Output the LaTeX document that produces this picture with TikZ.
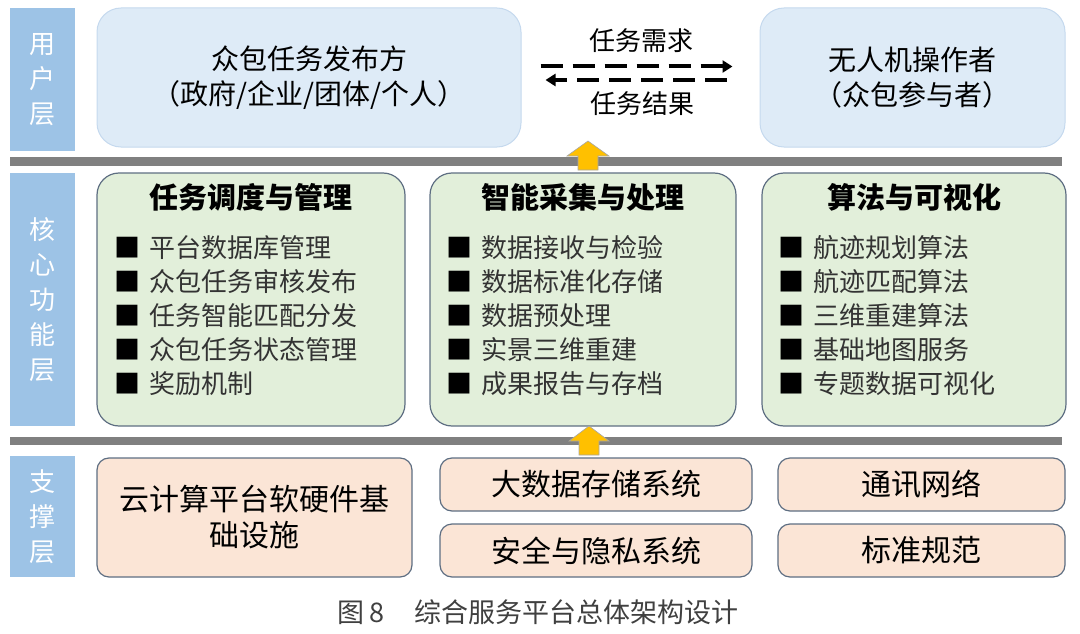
\documentclass[tikz,border=0pt]{standalone}
\usepackage{fontspec}
\setmainfont{Noto Sans CJK SC}
\usetikzlibrary{positioning, arrows.meta}
\definecolor{barblue}{HTML}{9DC3E6}
\definecolor{userfill}{HTML}{DEEBF7}
\definecolor{userline}{HTML}{C5D9EE}
\definecolor{corefill}{HTML}{E2EFDA}
\definecolor{boxline}{HTML}{5E6E82}
\definecolor{basefill}{HTML}{FBE5D6}
\definecolor{upyellow}{HTML}{FFC000}
\newcommand{\sq}{{\color{black}■}\hspace{9pt}}
\tikzstyle{layer} = [fill=barblue, text=white, minimum width=65pt, inner sep=0pt, align=center, font=\fontsize{26}{35}\selectfont]
\tikzstyle{userbox} = [rounded corners=24pt, draw=userline, fill=userfill, line width=1pt, minimum height=139pt, align=center, font=\fontsize{28}{35}\selectfont]
\tikzstyle{corebox} = [rounded corners=22pt, draw=boxline, fill=corefill, line width=1.2pt, minimum height=253pt]
\tikzstyle{basebox} = [rounded corners=12pt, draw=boxline, fill=basefill, line width=1.2pt, align=center, font=\fontsize{30}{36}\selectfont]
\tikzstyle{title} = [inner sep=0pt, font=\bfseries\fontsize{29}{34}\selectfont]
\tikzstyle{itemlist} = [inner sep=0pt, align=left, text=black!80, font=\fontsize{26}{34}\selectfont]
\tikzstyle{dasharrow} = [line width=4pt, dash pattern=on 22pt off 10pt, -{Triangle[length=10pt,width=12pt]}]
\tikzstyle{upblock} = [fill=upyellow, draw=gray!70, line width=0.6pt]

\begin{document}
\begin{tikzpicture}[x=1pt, y=-1pt]
        \useasboundingbox (0,0) rectangle (1080,634);
        % layers
        \node (ulayer) [layer, minimum height=143pt] at (42.5,79.5) {用\\户\\层};
        \node (clayer) [layer, minimum height=253pt] at (42.5,299.5) {核\\心\\功\\能\\层};
        \node (slayer) [layer, minimum height=121pt] at (42.5,516.5) {支\\撑\\层};
        % separators
        \fill[gray] (10,157) rectangle (1062,166);
        \fill[gray] (10,437) rectangle (1062,445);
        % user layer
        \node (pub) [userbox, minimum width=424pt] at (309,77.5) {众包任务发布方\\（政府/企业/团体/个人）};
        \node (opr) [userbox, minimum width=305pt] at (912.5,77.5) {无人机操作者\\（众包参与者）};
        \draw [dasharrow, shorten <=19pt, shorten >=27pt] ([yshift=11pt]pub.east) -- ([yshift=11pt]opr.west);
        \draw [dasharrow, shorten <=33pt, shorten >=24pt] ([yshift=-2.5pt]opr.west) -- ([yshift=-2.5pt]pub.east);
        \node (req) [font=\fontsize{26}{30}\selectfont] at (641,41) {任务需求};
        \node (res) [font=\fontsize{26}{30}\selectfont] at (642,104) {任务结果};
        % core layer
        \node (core1) [corebox, minimum width=308pt] at (251,299.5) {};
        \node (core2) [corebox, minimum width=306pt] at (583,299.5) {};
        \node (core3) [corebox, minimum width=304pt] at (914,299.5) {};
        \node (t1) [title, below=11pt of core1.north] {任务调度与管理};
        \node (t2) [title, below=11pt of core2.north] {智能采集与处理};
        \node (t3) [title, below=11pt of core3.north] {算法与可视化};
        \node (l1) [itemlist, anchor=north west] at ([xshift=18pt,yshift=-63pt]core1.north west)
            {\sq 平台数据库管理\\\sq 众包任务审核发布\\\sq 任务智能匹配分发\\\sq 众包任务状态管理\\\sq 奖励机制};
        \node (l2) [itemlist, anchor=north west] at ([xshift=17pt,yshift=-63pt]core2.north west)
            {\sq 数据接收与检验\\\sq 数据标准化存储\\\sq 数据预处理\\\sq 实景三维重建\\\sq 成果报告与存档};
        \node (l3) [itemlist, anchor=north west] at ([xshift=17pt,yshift=-63pt]core3.north west)
            {\sq 航迹规划算法\\\sq 航迹匹配算法\\\sq 三维重建算法\\\sq 基础地图服务\\\sq 专题数据可视化};
        % support layer
        \node (cloud) [basebox, minimum width=315pt, minimum height=119pt] at (254.5,517.5) {云计算平台软硬件基\\础设施};
        \node (bigdata) [basebox, minimum width=312pt, minimum height=53pt] at (596,484.5) {大数据存储系统};
        \node (secure) [basebox, minimum width=312pt, minimum height=53pt] at (596,550.5) {安全与隐私系统};
        \node (comm) [basebox, minimum width=287pt, minimum height=53pt] at (921.5,484.5) {通讯网络};
        \node (norm) [basebox, minimum width=287pt, minimum height=53pt] at (921.5,550.5) {标准规范};
        % up arrows
        \draw [upblock] (578,170) -- (578,156) -- (567,156) -- (588,141) -- (609,156) -- (598,156) -- (598,170) -- cycle;
        \draw [upblock] (579,455) -- (579,441) -- (569,441) -- (589,426) -- (609,441) -- (599,441) -- (599,455) -- cycle;
        % caption
        \node (cap) [text=black!75, font=\fontsize{27}{30}\selectfont] at (538,612) {图\,8\hspace{1.1em}综合服务平台总体架构设计};
    \end{tikzpicture}
\end{document}
